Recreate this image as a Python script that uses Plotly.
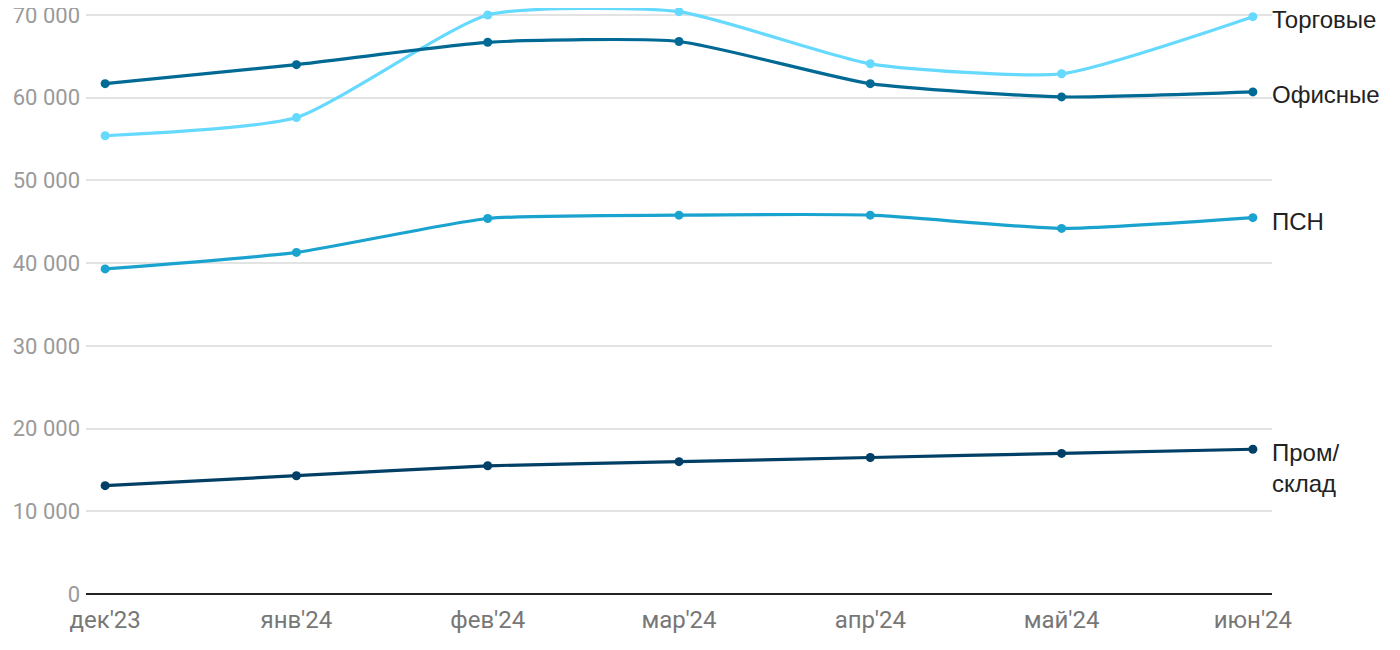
import plotly.graph_objects as go

months = ["дек'23", "янв'24", "фев'24", "мар'24", "апр'24", "май'24", "июн'24"]
trade = [55400, 57600, 70000, 70400, 64100, 62900, 69800]
office = [61700, 64000, 66700, 66800, 61700, 60100, 60700]
psn = [39300, 41300, 45400, 45800, 45800, 44200, 45500]
indust = [13100, 14300, 15500, 16000, 16500, 17000, 17500]
yticks = [0, 10000, 20000, 30000, 40000, 50000, 60000, 70000]

series = [
    ("Торговые", trade, "#66d9ff", -3),
    ("Офисные", office, "#006994", -3),
    ("ПСН", psn, "#1ba3cf", -4),
    ("Пром/<br>склад", indust, "#003f66", -19),
]

xs = list(range(len(months)))
fig = go.Figure()
for name, vals, col, ys in series:
    fig.add_trace(go.Scatter(
        x=xs, y=vals, mode="lines+markers", name=name,
        line=dict(color=col, width=3.2, shape="spline", smoothing=0.55),
        marker=dict(color=col, size=9), cliponaxis=False, showlegend=False))
    fig.add_annotation(x=xs[-1], y=vals[-1], text=name, showarrow=False,
                       xanchor="left", yanchor="middle", xshift=17, yshift=ys, align="left",
                       font=dict(family="Liberation Sans, Arial", size=24, color="#222222"))

fig.update_layout(
    width=1400, height=650,
    margin=dict(l=78, r=136, t=0, b=64),
    plot_bgcolor="white", paper_bgcolor="white",
    separators=", ",
    font=dict(family="Roboto"),
)
fig.update_xaxes(range=[-0.1, 6.1], tickvals=xs, ticktext=months, showgrid=False,
                 zeroline=False, ticks="", automargin=False, ticklabelstandoff=9,
                 tickfont=dict(size=24, color="#777777"))
fig.update_yaxes(range=[0, 70846], tickvals=yticks,
                 tickformat=",d", showgrid=True, automargin=False, ticklabeloverflow="allow",
                 gridcolor="#e3e3e3", gridwidth=1.5, zeroline=True, zerolinecolor="#222222",
                 zerolinewidth=2, ticks="", ticklabelstandoff=5,
                 tickfont=dict(size=22, color="#9a9a9a"))
fig.write_html("out.html")
